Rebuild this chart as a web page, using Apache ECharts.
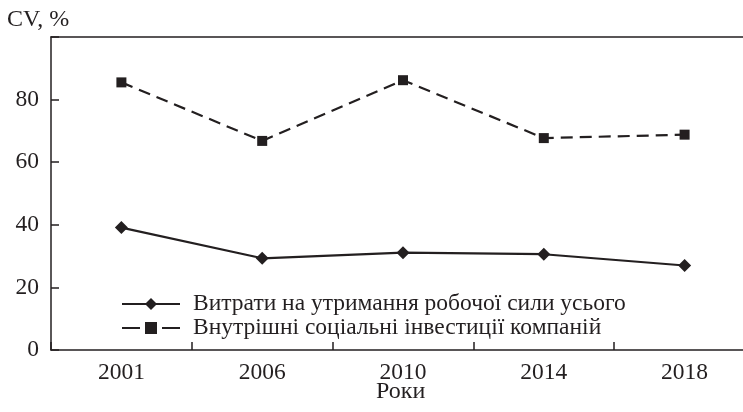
<!DOCTYPE html>
<html>
<head>
<meta charset="utf-8">
<script src="https://cdn.jsdelivr.net/npm/echarts@6/dist/echarts.min.js"></script>
<style>
  html, body { margin: 0; padding: 0; background: #fff; }
  #container { width: 743px; height: 412px; }
</style>
</head>
<body>
<div id="container"></div>
<script>
var years = ['2001', '2006', '2010', '2014', '2018'];
var labourCosts = [39.1, 29.3, 31.1, 30.6, 27.0];
var socialInvest = [85.5, 66.8, 86.2, 67.7, 68.8];
var seriesNames = ['Витрати на утримання робочої сили усього', 'Внутрішні соціальні інвестиції компаній'];
var yTicks = [0, 20, 40, 60, 80, 100];

var ink = '#231f20';
var font = 'Liberation Serif';

var dom = document.getElementById('container');
var myChart = echarts.init(dom, null, { renderer: 'canvas' });

var option = {
  backgroundColor: '#fff',
  animation: false,
  textStyle: { fontFamily: font, color: ink },
  graphic: [
    { type: 'text', left: 7, top: 8, style: { text: 'CV, %', font: '24px "Liberation Serif"', fill: ink } },
    { type: 'text', left: 376, top: 380, style: { text: 'Роки', font: '24px "Liberation Serif"', fill: ink } }
  ],
  legend: {
    orient: 'vertical',
    left: 116,
    top: 287,
    itemWidth: 58,
    itemHeight: 15,
    itemGap: 0,
    textStyle: { fontFamily: font, fontSize: 23.5, color: ink, padding: [0, 0, 0, 8] },
    data: [
      { name: seriesNames[0] },
      { name: seriesNames[1], lineStyle: { type: [18, 22] } }
    ]
  },
  grid: {
    left: 51,
    width: 704,
    top: 37,
    bottom: 62,
    outerBoundsMode: 'none',
    containLabel: false
  },
  xAxis: [{
    type: 'category',
    data: years,
    boundaryGap: true,
    axisLine: { lineStyle: { color: ink, width: 1.5 } },
    axisTick: { show: true, inside: true, length: 8, lineStyle: { color: ink, width: 1.5 } },
    axisLabel: { fontFamily: font, fontSize: 23.5, color: ink, margin: 11 }
  }, {
    type: 'category',
    data: years,
    position: 'top',
    axisLine: { lineStyle: { color: ink, width: 1.5 } },
    axisTick: { show: false },
    axisLabel: { show: false }
  }],
  yAxis: {
    type: 'value',
    min: yTicks[0],
    max: yTicks[yTicks.length - 1],
    interval: 20,
    splitLine: { show: false },
    axisLine: { show: true, lineStyle: { color: ink, width: 1.5 } },
    axisTick: { show: true, inside: true, length: 8, lineStyle: { color: ink, width: 1.5 } },
    axisLabel: {
      fontFamily: font, fontSize: 23.5, color: ink, margin: 12,
      formatter: function (v) { return v === 100 ? '' : v; }
    }
  },
  series: [{
    name: seriesNames[0],
    type: 'line',
    data: labourCosts,
    symbol: 'diamond',
    symbolSize: 13,
    itemStyle: { color: ink },
    lineStyle: { color: ink, width: 2.2 }
  }, {
    name: seriesNames[1],
    type: 'line',
    data: socialInvest,
    symbol: 'rect',
    symbolSize: 10,
    itemStyle: { color: ink },
    lineStyle: { color: ink, width: 2.2, type: [12, 7] }
  }]
};

myChart.setOption(option);
window.addEventListener('resize', myChart.resize);
</script>
</body>
</html>
